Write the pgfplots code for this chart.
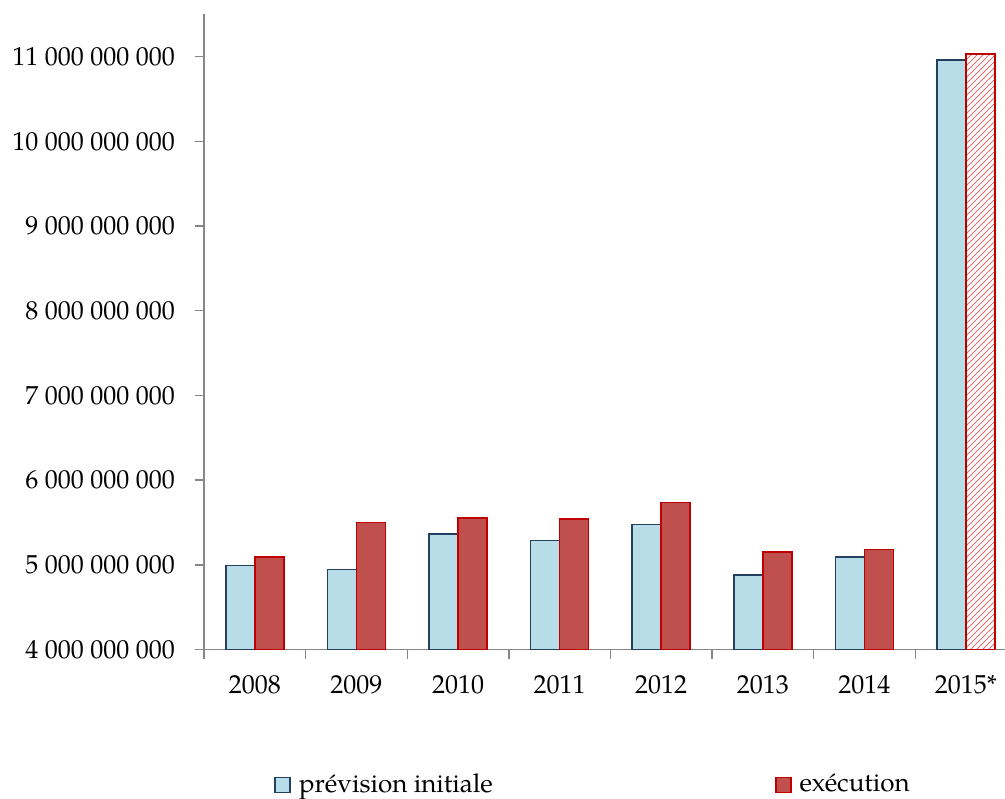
\documentclass[border=0pt]{standalone}
\usepackage{fontspec}
\setmainfont{TeX Gyre Pagella}
\usepackage{pgfplots}
\pgfplotsset{compat=1.18}
\usetikzlibrary{patterns}
\definecolor{prevfill}{HTML}{B7DDE8}
\definecolor{prevedge}{HTML}{243F60}
\definecolor{execfill}{HTML}{C0504D}
\definecolor{execedge}{HTML}{C00000}
\definecolor{axgray}{HTML}{868686}
\begin{document}
\fontsize{13pt}{15pt}\selectfont
\begin{tikzpicture}
\useasboundingbox (-102pt,-74.25pt) rectangle (400.5pt,324.75pt);
\begin{axis}[
  at={(0pt,0pt)}, anchor=south west,
  scale only axis, width=400.5pt, height=318pt,
  xmin=-0.5, xmax=7.384, ymin=4e9, ymax=11.51e9,
  axis x line*=bottom, axis y line*=left,
  axis line style={draw=axgray, line width=0.7pt, -},
  ybar, bar width=14.5pt,
  ytick={4e9,5e9,6e9,7e9,8e9,9e9,10e9,11e9},
  yticklabels={4 000 000 000,5 000 000 000,6 000 000 000,7 000 000 000,8 000 000 000,9 000 000 000,10 000 000 000,11 000 000 000},
  xtick={0,1,2,3,4,5,6,7},
  xticklabels={2008,2009,2010,2011,2012,2013,2014,2015*},
  minor xtick={-0.5,0.5,1.5,2.5,3.5,4.5,5.5,6.5},
  major x tick style={draw=none},
  tick align=outside,
  tick style={draw=axgray, line width=0.7pt},
  major tick length=4.5pt, minor tick length=4.5pt,
  xticklabel style={yshift=-4pt, font=\fontsize{13pt}{15pt}\selectfont},
  yticklabel style={xshift=-5.5pt, font=\fontsize{13pt}{15pt}\selectfont},
  legend columns=2,
  legend style={draw=none, fill=none, at={(0.080,-0.213)}, anchor=west,
    font=\fontsize{13pt}{15pt}\selectfont,
    /tikz/every even column/.append style={column sep=139pt}},
  legend image code/.code={\draw[#1] (0pt,-3.75pt) rectangle (7.5pt,3.75pt);},
]
\addplot[fill=prevfill, draw=prevedge, line width=0.8pt, bar shift=-7.25pt]
  coordinates {(0,4.994e9) (1,4.947e9) (2,5.367e9) (3,5.285e9) (4,5.474e9) (5,4.880e9) (6,5.092e9) (7,10.963e9)};
\addplot[fill=execfill, draw=execedge, line width=0.8pt, bar shift=7.25pt]
  coordinates {(0,5.092e9) (1,5.502e9) (2,5.556e9) (3,5.541e9) (4,5.738e9) (5,5.151e9) (6,5.183e9)};
\addplot[pattern=north east lines, pattern color=execedge!55, draw=execedge, line width=0.8pt, bar shift=7.25pt, forget plot]
  coordinates {(7,11.031e9)};
\legend{\hspace{2pt}prévision initiale, \hspace{2pt}exécution}
\end{axis}
\end{tikzpicture}
\end{document}
